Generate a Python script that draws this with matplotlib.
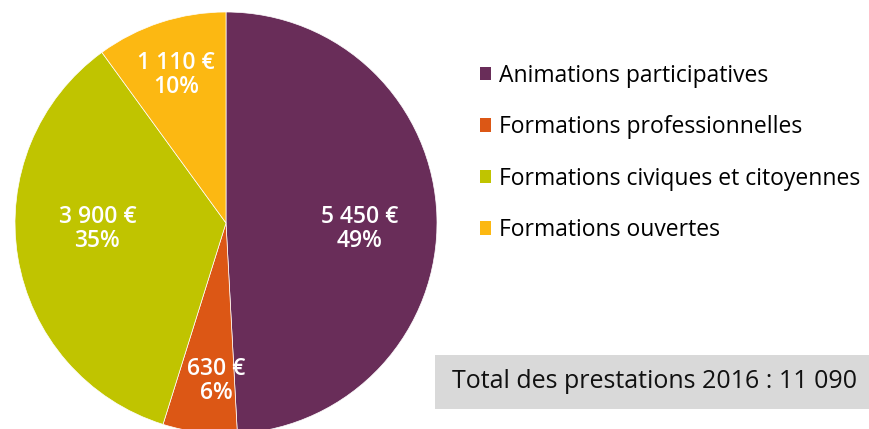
import matplotlib.pyplot as plt
import numpy as np
from matplotlib.patches import Rectangle

plt.rcParams['font.family'] = ['Open Sans', 'DejaVu Sans']

# données
labels = ['Animations participatives', 'Formations professionnelles',
          'Formations civiques et citoyennes', 'Formations ouvertes']
montants = [5450, 630, 3900, 1110]
montant_txt = ['5 450 €', '630 €', '3 900 €', '1 110 €']
couleurs = ['#692D59', '#DC5715', '#C0C400', '#FCB812']
total_txt = 'Total des prestations 2016 : 11 090'

W, H = 870, 429
fig = plt.figure(figsize=(W / 100, H / 100), dpi=100)

# camembert : centre (226, 223) px, rayon 211 px
cx, cy, r = 226, 223, 211
ax = fig.add_axes([(cx - r) / W, (H - cy - r) / H, 2 * r / W, 2 * r / H])
wedges, _ = ax.pie(montants, colors=couleurs, startangle=90, counterclock=False,
                   radius=1, wedgeprops=dict(linewidth=0.5, edgecolor='white'))
ax.set_xlim(-1, 1)
ax.set_ylim(-1, 1)
ax.set_aspect('equal')
ax.axis('off')

total = sum(montants)
# position des étiquettes : distance au centre et décalage angulaire
dist = [0.635, 0.75, 0.61, 0.74]
decal = [-4, 3.5, -6.6, 0.7]
for w, m, t, d, da in zip(wedges, montants, montant_txt, dist, decal):
    ang = np.deg2rad((w.theta1 + w.theta2) / 2 + da)
    x, y = d * np.cos(ang), d * np.sin(ang)
    pct = '%d%%' % round(100 * m / total)
    ax.text(x, y, t + '\n' + pct, ha='center', va='center', color='white',
            fontsize=16.5, fontweight='semibold', linespacing=1.02)

# légende
leg = fig.legend(wedges, labels, loc='upper left',
                 bbox_to_anchor=(459 / W, 1 - 43 / H), frameon=False,
                 fontsize=16.5, handlelength=0.5, handleheight=0.5,
                 handletextpad=0.35, labelspacing=1.2)
for h in leg.legend_handles:
    h.set_edgecolor('none')

# encadré total
fig.patches.append(Rectangle((435 / W, 1 - 409 / H), 0.6, 54 / H,
                             transform=fig.transFigure, facecolor='#D9D9D9',
                             edgecolor='none', zorder=0))
fig.text(452 / W, 1 - 382 / H, total_txt, ha='left', va='center',
         fontsize=18, color='#111111')

fig.savefig('out.png', dpi=100)
